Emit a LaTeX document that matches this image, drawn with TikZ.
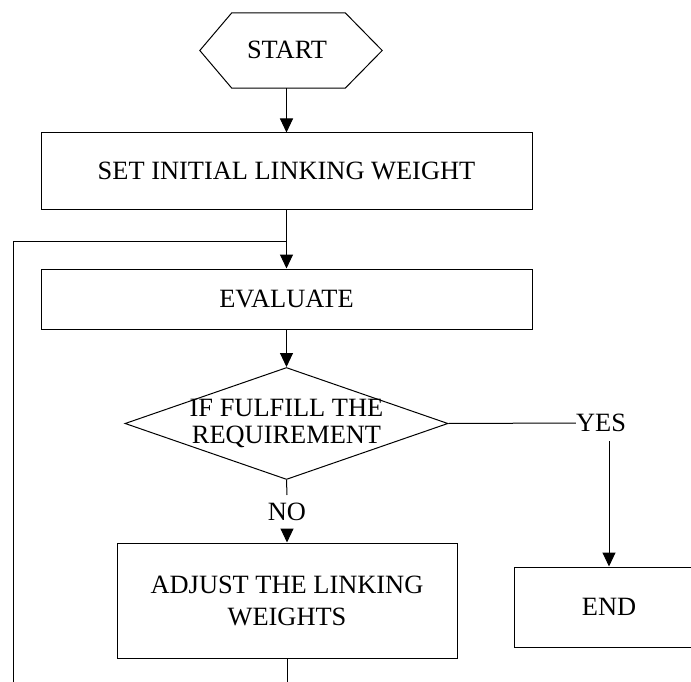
\documentclass[tikz,border=0pt]{standalone}
\usepackage{fontspec}
\setmainfont{Liberation Serif}
\usetikzlibrary{arrows.meta,shapes.geometric,calc}
\begin{document}
\begin{tikzpicture}[x=1pt,y=-1pt,
  every node/.style={font=\fontsize{26.4}{27}\selectfont, inner sep=0pt},
  box/.style={draw, line width=1pt, rectangle},
  flow/.style={line width=1pt, -{Triangle[length=14pt,width=13pt]}},
  conn/.style={line width=1pt}]
\useasboundingbox (0,0) rectangle (691,682);
\clip (0,0) rectangle (691,682);
% nodes
\node[minimum width=182pt, minimum height=75pt] (start) at (291,50.5) {};
\node (starttxt) at (287,50) {START};
\draw[conn] (start.west) -- ($(start.north west)+(32,0)$) -- ($(start.north east)+(-37,0)$) -- (start.east) -- ($(start.south east)+(-37,0)$) -- ($(start.south west)+(32,0)$) -- cycle;
\node[box, minimum width=491pt, minimum height=76pt] (set) at (286.5,171) {SET INITIAL LINKING WEIGHT};
\node[box, minimum width=491pt, minimum height=60pt] (eval) at (286.5,299) {EVALUATE};
\node[draw, diamond, line width=1pt, minimum width=323pt, minimum height=112pt] (dec) at (286.5,423.5) {};
\node[align=center] (dectxt) at (dec.center) {IF FULFILL THE\\REQUIREMENT};
\node[box, minimum width=340pt, minimum height=115pt, align=center] (adj) at (287,600.5) {ADJUST THE LINKING\\[5pt]WEIGHTS};
\node[box, minimum width=190pt, minimum height=80pt] (end) at (609,607) {END};
\node (yes) at (601,423) {YES};
\node (no) at (287,512) {NO};
% coordinates
\coordinate (yesb) at (609,441);
\coordinate (noa) at (287,495);
\coordinate (nob) at (287,530);
\coordinate (bot1) at (287,682);
\coordinate (bot2) at (13,682);
\coordinate (join) at (286.5,241);
% connectors
\draw[flow] (start.south -| set.north) -- (set.north);
\draw[flow] (set.south) -- (eval.north);
\draw[flow] (eval.south) -- (dec.north);
\draw[conn] (dec.east) -- (yes.west);
\draw[flow] (yesb) -- (end.north);
\draw[conn] (dec.south) -- (noa);
\draw[flow] (nob) -- (adj.north);
\draw[conn] (adj.south) -- (bot1);
\draw[conn] (bot2) |- (join);
\end{tikzpicture}
\end{document}
